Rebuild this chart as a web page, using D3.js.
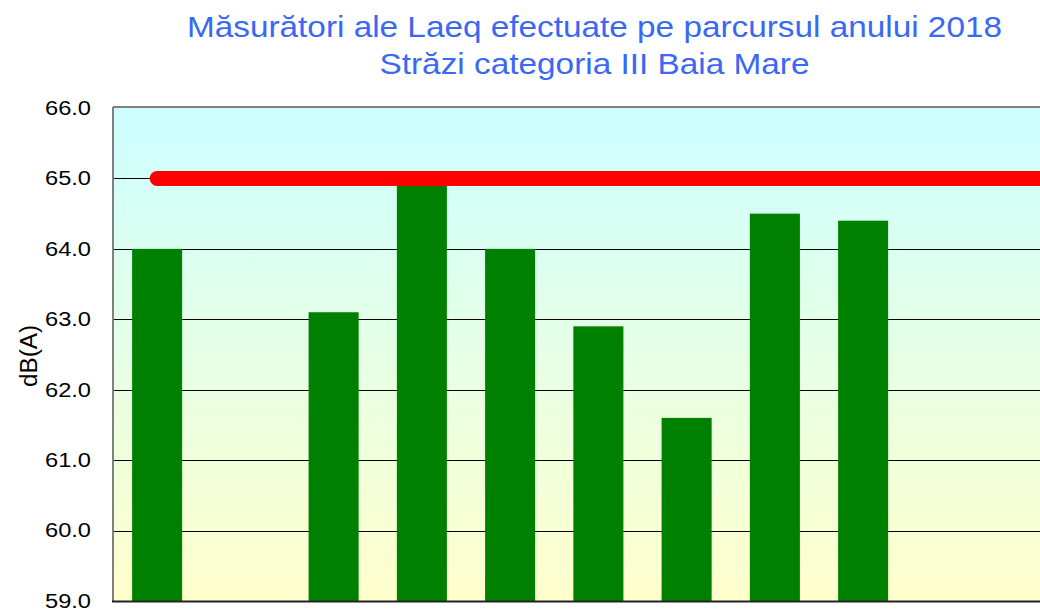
<!DOCTYPE html>
<html>
<head>
<meta charset="utf-8">
<script src="https://cdn.jsdelivr.net/npm/d3@7"></script>
<style>
  html, body { margin: 0; padding: 0; background: #fff; overflow: hidden; }
  text { font-family: "Liberation Sans", Arial, sans-serif; }
</style>
</head>
<body>
<svg width="1040" height="611"></svg>
<script>
// data (slots without a bar have null)
var categories = ["P1", "P2", "P3", "P4", "P5", "P6", "P7", "P8", "P9", "P10", "P11"];
var laeq = [64.0, null, 63.1, 64.9, 64.0, 62.9, 61.6, 64.5, 64.4, null, null];
var limitValue = 65;
var yTicks = [59, 60, 61, 62, 63, 64, 65, 66];
var titleLines = ["Măsurători ale Laeq efectuate pe parcursul anului 2018", "Străzi categoria III Baia Mare"];

var svg = d3.select("svg");

var plotLeft = 113, plotTop = 108, plotBottom = 601,
    step = 88.25,
    plotRight = plotLeft + step * categories.length;

var x = d3.scaleBand()
    .domain(categories)
    .range([plotLeft, plotRight])
    .paddingInner(0.433)
    .paddingOuter(0.2165);

var y = d3.scaleLinear()
    .domain([59, 66])
    .range([plotBottom, plotTop]);

var defs = svg.append("defs");
var grad = defs.append("linearGradient")
    .attr("id", "bg")
    .attr("x1", 0).attr("y1", 0).attr("x2", 0).attr("y2", 1);
grad.append("stop").attr("offset", "0%").attr("stop-color", "#ccffff");
grad.append("stop").attr("offset", "100%").attr("stop-color", "#ffffcc");

// plot background
svg.append("rect")
    .attr("x", plotLeft).attr("y", plotTop)
    .attr("width", plotRight - plotLeft).attr("height", plotBottom - plotTop)
    .attr("fill", "url(#bg)");

// grid
svg.append("g")
  .selectAll("line")
  .data(yTicks.filter(d => d > 59 && d < 66))
  .enter().append("line")
    .attr("x1", plotLeft).attr("x2", plotRight)
    .attr("y1", d => Math.round(y(d)) + 0.5)
    .attr("y2", d => Math.round(y(d)) + 0.5)
    .attr("stroke", "#000")
    .attr("stroke-width", 1);

// bars
svg.append("g")
  .selectAll("rect")
  .data(categories.map((c, i) => ({cat: c, v: laeq[i]})).filter(d => d.v != null))
  .enter().append("rect")
    .attr("x", d => x(d.cat))
    .attr("y", d => y(d.v))
    .attr("width", x.bandwidth())
    .attr("height", d => plotBottom - y(d.v))
    .attr("fill", "#008000");

// limit line
svg.append("line")
    .attr("x1", x(categories[0]) + x.bandwidth() / 2)
    .attr("x2", plotRight + 20)
    .attr("y1", y(limitValue))
    .attr("y2", y(limitValue))
    .attr("stroke", "#ff0000")
    .attr("stroke-width", 15)
    .attr("stroke-linecap", "round");

// frame
svg.append("line")
    .attr("x1", plotLeft).attr("x2", plotLeft)
    .attr("y1", plotTop - 1).attr("y2", plotBottom)
    .attr("stroke", "#808080").attr("stroke-width", 2);
svg.append("line")
    .attr("x1", plotLeft).attr("x2", plotRight)
    .attr("y1", plotTop - 1).attr("y2", plotTop - 1)
    .attr("stroke", "#808080").attr("stroke-width", 2);
svg.append("line")
    .attr("x1", plotLeft - 1).attr("x2", plotRight)
    .attr("y1", plotBottom + 0.5).attr("y2", plotBottom + 0.5)
    .attr("stroke", "#222").attr("stroke-width", 2);

// y axis labels
var yAxis = d3.axisLeft(y)
    .tickValues(yTicks)
    .tickFormat(d3.format(".1f"))
    .tickSize(0)
    .tickPadding(68);
var ya = svg.append("g")
    .attr("transform", "translate(" + plotLeft + ",0)")
    .call(yAxis);
ya.select(".domain").remove();
ya.selectAll("text")
    .attr("text-anchor", "start")
    .attr("font-family", "'Liberation Sans', Arial, sans-serif")
    .attr("font-size", 20)
    .attr("textLength", 46)
    .attr("lengthAdjust", "spacingAndGlyphs")
    .attr("fill", "#000");

// y axis title
svg.append("text")
    .attr("transform", "translate(37,356) rotate(-90)")
    .attr("text-anchor", "middle")
    .attr("font-size", 23)
    .attr("textLength", 62)
    .attr("lengthAdjust", "spacingAndGlyphs")
    .attr("fill", "#000")
    .text("dB(A)");

// title
var titleWidths = [815, 430];
svg.append("g")
  .selectAll("text")
  .data(titleLines)
  .enter().append("text")
    .attr("x", 594.5)
    .attr("y", (d, i) => 37 + i * 37)
    .attr("text-anchor", "middle")
    .attr("font-size", 30)
    .attr("textLength", (d, i) => titleWidths[i])
    .attr("lengthAdjust", "spacingAndGlyphs")
    .attr("fill", "#3a68f5")
    .text(d => d);
</script>
</body>
</html>
